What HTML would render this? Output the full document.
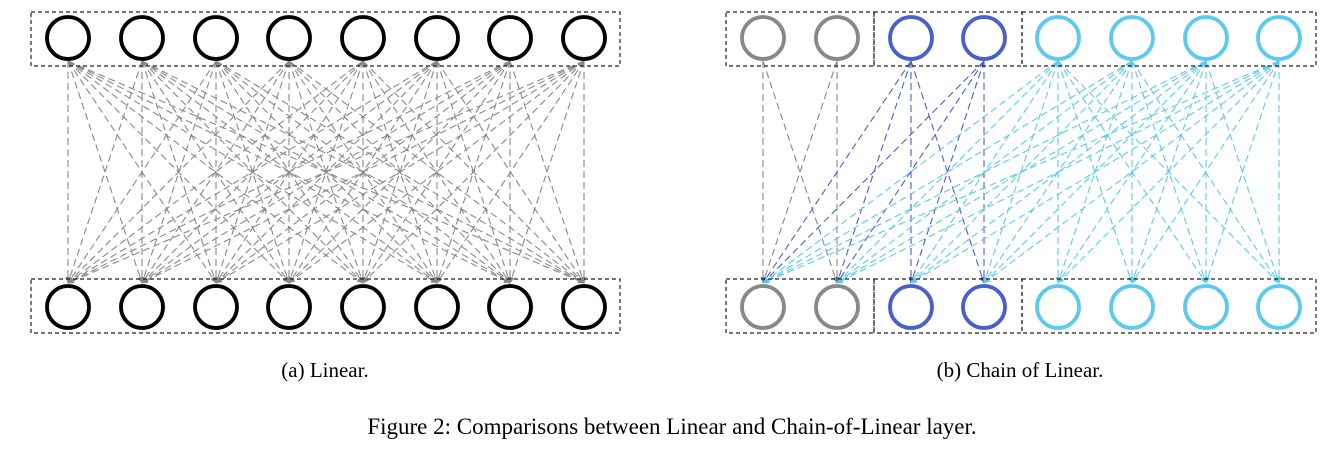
<!DOCTYPE html>
<html><head><meta charset="utf-8"><style>
body{margin:0;background:#fff;width:1344px;height:451px;overflow:hidden}
svg{position:absolute;left:0;top:0}
text{font-family:"Liberation Serif",serif;fill:#000}
</style></head><body>
<svg id="s" width="1344" height="451" xmlns="http://www.w3.org/2000/svg">
<defs>
<marker id="mg" viewBox="0 0 10 10" refX="9" refY="5" markerWidth="6" markerHeight="6" orient="auto"><path d="M0,1 L10,5 L0,9 z" fill="#888"/></marker>
<marker id="mb" viewBox="0 0 10 10" refX="9" refY="5" markerWidth="6" markerHeight="6" orient="auto"><path d="M0,1 L10,5 L0,9 z" fill="#4a5fc9"/></marker>
<marker id="mc" viewBox="0 0 10 10" refX="9" refY="5" markerWidth="6" markerHeight="6" orient="auto"><path d="M0,1 L10,5 L0,9 z" fill="#5cc9ef"/></marker>
</defs>
<g id="lines"></g>
<g fill="none" stroke="#222" stroke-width="1.2" stroke-dasharray="4,3">
<rect x="31" y="12" width="589" height="54"/>
<rect x="31" y="279" width="589" height="54"/>
<rect x="726" y="12" width="148" height="54"/>
<rect x="874" y="12" width="148" height="54"/>
<rect x="1022" y="12" width="294" height="54"/>
<rect x="726" y="279" width="148" height="54"/>
<rect x="874" y="279" width="148" height="54"/>
<rect x="1022" y="279" width="294" height="54"/>
</g>
<g id="circ" fill="#fff" stroke-width="3.8"></g>
<text x="325" y="377" font-size="21" text-anchor="middle">(a) Linear.</text>
<text x="1020" y="377" font-size="21" text-anchor="middle">(b) Chain of Linear.</text>
<text x="672" y="434" font-size="23" text-anchor="middle">Figure 2: Comparisons between Linear and Chain-of-Linear layer.</text>
</svg>
<script>
var NS="http://www.w3.org/2000/svg";
var L=[68,142,216,289,363,437,510,584];
var R=[763,837,911,984,1058,1132,1206,1279];
var lg=document.getElementById('lines'),cg=document.getElementById('circ');
function line(x1,x2,col,m){var l=document.createElementNS(NS,'line');
l.setAttribute('x1',x1);l.setAttribute('y1',61);l.setAttribute('x2',x2);l.setAttribute('y2',283);
l.setAttribute('stroke',col);l.setAttribute('stroke-width',1.1);l.setAttribute('stroke-dasharray','7,4');
l.setAttribute('marker-end','url(#'+m+')');lg.appendChild(l);}
function circ(x,y,col){var c=document.createElementNS(NS,'circle');c.setAttribute('cx',x);c.setAttribute('cy',y);c.setAttribute('r',21);c.setAttribute('stroke',col);cg.appendChild(c);}
L.forEach(function(a){L.forEach(function(b){line(a,b,'#888','mg');});circ(a,38,'#000');circ(a,307,'#000');});
var cols=['#888','#888','#4a5fc9','#4a5fc9','#5cc9ef','#5cc9ef','#5cc9ef','#5cc9ef'];
var mk=['mg','mg','mb','mb','mc','mc','mc','mc'];
var grp=[0,0,1,1,2,2,2,2];
for(var i=0;i<8;i++){for(var j=0;j<8;j++){if(grp[j]<=grp[i])line(R[i],R[j],cols[i],mk[i]);}}
for(var i=0;i<8;i++){circ(R[i],38,cols[i]);circ(R[i],307,cols[i]);}
</script>
</body></html>
